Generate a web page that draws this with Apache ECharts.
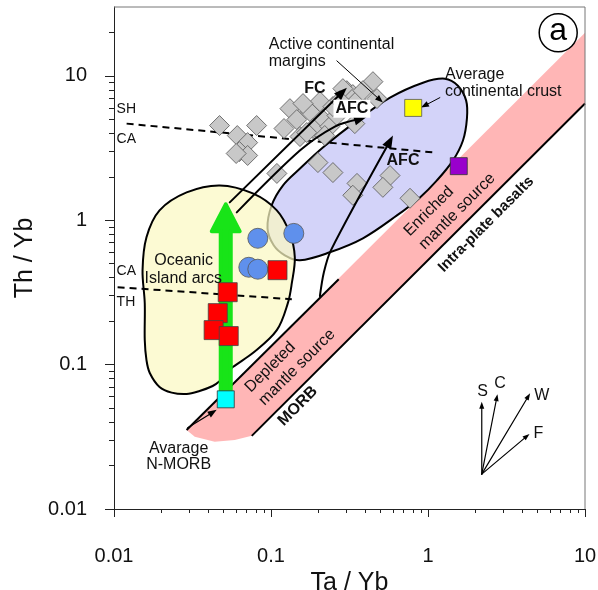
<!DOCTYPE html>
<html><head><meta charset="utf-8">
<script src="https://cdn.jsdelivr.net/npm/echarts@6/dist/echarts.min.js"></script>
<style>html,body{margin:0;padding:0;background:#fff}#c{width:598px;height:590px}</style>
</head><body><div id="c"></div>
<script>
// ---------- data (Ta/Yb , Th/Yb) ----------
const tickLabels = ['0.01', '0.1', '1', '10'];
const majorTicks = [0.01, 0.1, 1, 10];
const xMinorTicks = [0.02,0.03,0.04,0.05,0.06,0.07,0.08,0.09,0.2,0.3,0.4,0.5,0.6,0.7,0.8,0.9,2,3,4,5,6,7,8,9];
const yMinorTicks = [0.02,0.03,0.04,0.05,0.06,0.07,0.08,0.09,0.2,0.3,0.4,0.5,0.6,0.7,0.8,0.9,2,3,4,5,6,7,8,9,20];

const redSquares = [[0.110,0.451],[0.0530,0.3175],[0.0458,0.2274],[0.0431,0.1734],[0.0538,0.1577]];
const blueCircles = [[0.0824,0.750],[0.1397,0.811],[0.0722,0.4725],[0.0824,0.458]];
const greyDiamonds = [
  [0.047,4.53],[0.081,4.53],[0.061,3.86],[0.071,3.45],[0.063,2.99],[0.071,2.81],[0.060,2.90],
  [0.132,5.93],[0.121,4.32],[0.146,4.98],[0.153,3.80],[0.177,5.66],[0.205,6.63],[0.214,4.98],
  [0.185,4.32],[0.237,4.46],[0.263,5.31],[0.304,7.90],[0.332,7.42],[0.353,6.74],[0.446,9.12],
  [0.473,6.96],[0.342,4.67],[0.248,6.13],[0.109,2.11],[0.199,2.51],[0.248,2.14],[0.353,1.80],
  [0.332,1.49],[0.573,2.04],[0.516,1.69],[0.768,1.42],[0.169,4.05],[0.385,7.90],[0.287,8.16],
  [0.160,6.43],[0.220,3.86],[0.275,6.74]
];
const nMorbAverage = [[0.0515,0.0575]];
const continentalCrust = [[0.805,6.0]];
const purpleSample = [[1.57,2.37]];

// field boundaries
const oceanicArcField = [
  [0.0472,1.743],[0.0766,1.534],[0.1089,1.171],[0.1318,0.812],[0.1418,0.554],[0.1357,0.3665],
  [0.128,0.2665],[0.1089,0.1734],[0.0766,0.1203],[0.0571,0.0962],[0.0515,0.0855],[0.0472,0.077],
  [0.0425,0.0711],[0.0351,0.0657],[0.029,0.0626],[0.0233,0.064],[0.0195,0.070],[0.0169,0.0875],
  [0.0161,0.1076],[0.0157,0.148],[0.0157,0.2665],[0.0152,0.451],[0.0161,0.762],[0.0195,1.171],[0.029,1.559]
];
const activeMarginField = [
  [0.095,0.879],[0.101,1.27],[0.119,1.74],[0.153,2.28],[0.214,3.19],[0.353,4.90],[0.573,7.07],
  [0.929,8.97],[1.28,9.56],[1.55,8.55],[1.75,6.74],[1.77,5.06],[1.67,3.57],[1.44,2.59],[1.14,1.89],
  [0.889,1.44],[0.634,1.08],[0.385,0.75],[0.237,0.60],[0.153,0.528],[0.1225,0.572],[0.104,0.671]
];
const mantleArray = [[0.029,0.0353],[10,19.9],[10,6.43],[0.0754,0.0321],[0.0588,0.0301],[0.0438,0.0292],[0.0327,0.0316]];
const mantleUpperLine = [[0.029,0.0353],[0.27,0.39]];
const mantleLowerLine = [[0.0754,0.0321],[10,6.43]];
const shCaLine = [[0.01203,4.67],[1.076,2.95]];
const caThLine = [[0.01054,0.344],[0.1357,0.284]];

// trends
const greenTrend = [[0.0515,1.288],[0.0632,0.838],[0.05541,0.838],[0.05541,0.0636],[0.04784,0.0636],[0.04784,0.838],[0.04194,0.838]];
const fcTrend = [[0.0546,1.33],[0.3043,8.29]];
const afcTrend1 = [[0.0605,1.134],[0.1527,3.04],[0.255,4.46],[0.408,5.22]];
const afcTrend2 = [[0.2048,0.298],[0.2172,0.4365],[0.2407,0.619],[0.598,3.86]];
const acmLeader = [[0.2628,12.7],[0.5164,6.53]];
const crustLeader = [[1.19,7.07],[0.902,6.03]];
const morbLeader = [[0.02947,0.0365],[0.0451,0.0486]];
const vectorOrigin = [2.20,0.01745];
const vectorTips = [[2.20,0.0554],[2.77,0.0624],[4.47,0.0633],[4.43,0.0331]];
const vectorNames = ['S','C','W','F'];
const vectorLabelAt = [[2.23,0.065],[2.88,0.0743],[5.31,0.0607],[5.05,0.0331]];

// ---------- drawing ----------
const FONT = '"Liberation Sans", Arial, Helvetica, sans-serif';
const chart = echarts.init(document.getElementById('c'), null, {renderer: 'canvas'});

function pts(api, arr) { return arr.map(d => api.coord(d)); }
function arrow(api, arr, lw, len, hw, color, smooth) {
  const p = pts(api, arr);
  const n = p.length, a = p[n - 2], b = p[n - 1];
  const dx = b[0] - a[0], dy = b[1] - a[1], L = Math.hypot(dx, dy), ux = dx / L, uy = dy / L;
  const bx = b[0] - ux * len, by = b[1] - uy * len;
  const lp = p.slice(0, n - 1).concat([[b[0] - ux * len * 0.7, b[1] - uy * len * 0.7]]);
  return [
    {type: 'polyline', shape: {points: lp, smooth: smooth || 0}, style: {stroke: color, lineWidth: lw, fill: null, lineCap: 'round', lineJoin: 'round'}},
    {type: 'polygon', shape: {points: [b, [bx - uy * hw, by + ux * hw], [bx + uy * hw, by - ux * hw]]}, style: {fill: color}}
  ];
}
function txt(api, d, text, o) {
  const p = api.coord(d);
  const st = {text: text, fill: '#111', fontSize: o.size || 16, fontFamily: FONT, fontWeight: o.bold ? 'bold' : 'normal',
    align: o.align || 'left', verticalAlign: 'middle'};
  if (o.bg) { st.backgroundColor = o.bg; st.padding = [1, 2]; }
  return {type: 'text', x: p[0], y: p[1], rotation: o.rot || 0, style: st};
}
function layer(z, build) {
  return {type: 'custom', z: z, silent: true, animation: false, clip: false, data: [[1, 1]],
    renderItem: (params, api) => ({type: 'group', children: build(api)})};
}
function fmt(v) {
  const l = Math.log10(v), e = Math.round(l);
  if (Math.abs(l - e) > 1e-6 || e < -2 || e > 1) return '';
  return tickLabels[e + 2];
}
const R45 = Math.PI / 4;
const axisLineStyle = {show: true, onZero: false, lineStyle: {color: '#222', width: 1}};

const option = {
  backgroundColor: '#fff',
  animation: false,
  grid: {left: 114, right: 13, top: 7, bottom: 81, containLabel: false, outerBoundsMode: 'none', show: false},
  xAxis: [
    {type: 'log', logBase: 10, min: 0.01, max: 10, position: 'bottom',
      axisLine: axisLineStyle,
      axisTick: {show: true, inside: false, length: 8, customValues: majorTicks, lineStyle: {color: '#222', width: 1}},
      splitLine: {show: false}, minorTick: {show: false},
      axisLabel: {margin: 37, fontSize: 20, color: '#111', fontFamily: FONT, formatter: fmt, customValues: majorTicks},
      name: 'Ta / Yb', nameLocation: 'middle', nameGap: 51,
      nameTextStyle: {fontSize: 25, color: '#111', fontFamily: FONT}},
    {type: 'log', logBase: 10, min: 0.01, max: 10, position: 'bottom', gridIndex: 0,
      axisLine: {show: false},
      axisTick: {show: true, inside: false, length: 4, customValues: xMinorTicks, lineStyle: {color: '#222', width: 1}},
      splitLine: {show: false}, axisLabel: {show: false}}
  ],
  yAxis: [
    {type: 'log', logBase: 10, min: 0.01, max: 30, position: 'left',
      axisLine: axisLineStyle,
      axisTick: {show: true, inside: false, length: 9, customValues: majorTicks, lineStyle: {color: '#222', width: 1}},
      splitLine: {show: false}, minorTick: {show: false},
      axisLabel: {margin: 27, fontSize: 20, color: '#111', fontFamily: FONT, formatter: fmt, customValues: majorTicks},
      name: 'Th / Yb', nameLocation: 'middle', nameGap: 72,
      nameTextStyle: {fontSize: 25, color: '#111', fontFamily: FONT}},
    {type: 'log', logBase: 10, min: 0.01, max: 30, position: 'left', gridIndex: 0,
      axisLine: {show: false},
      axisTick: {show: true, inside: false, length: 5, customValues: yMinorTicks, lineStyle: {color: '#222', width: 1}},
      splitLine: {show: false}, axisLabel: {show: false}}
  ],
  series: [
    layer(1, api => [
      {type: 'polygon', shape: {points: pts(api, mantleArray)}, style: {fill: '#ffb6b6'}}
    ]),
    layer(2, api => [
      {type: 'polygon', shape: {points: pts(api, activeMarginField), smooth: 0.35},
        style: {fill: '#d3d3f9', stroke: '#000', lineWidth: 2}}
    ]),
    layer(3, api => [
      {type: 'polygon', shape: {points: pts(api, oceanicArcField), smooth: 0.35},
        style: {fill: 'rgba(251,248,194,0.72)', stroke: null}},
      {type: 'polygon', shape: {points: pts(api, oceanicArcField), smooth: 0.35},
        style: {fill: null, stroke: '#000', lineWidth: 2}}
    ]),
    layer(4, api => [
      {type: 'polyline', shape: {points: pts(api, mantleUpperLine)}, style: {stroke: '#000', lineWidth: 2}},
      {type: 'polyline', shape: {points: pts(api, mantleLowerLine)}, style: {stroke: '#000', lineWidth: 2}},
      {type: 'polyline', shape: {points: pts(api, shCaLine)}, style: {stroke: '#000', lineWidth: 2, lineDash: [7, 5]}},
      {type: 'polyline', shape: {points: pts(api, caThLine)}, style: {stroke: '#000', lineWidth: 2, lineDash: [7, 5]}}
    ]),
    {type: 'scatter', name: 'Active margin samples', z: 6, silent: true, data: greyDiamonds, symbol: 'diamond', symbolSize: 20,
      itemStyle: {color: '#c8c8c8', borderColor: '#555', borderWidth: 0.8, opacity: 1}},
    layer(7, api => [].concat(
      arrow(api, fcTrend, 2, 13, 5, '#000'),
      arrow(api, afcTrend1, 2, 13, 5, '#000', 0.3),
      arrow(api, afcTrend2, 2, 13, 5, '#000', 0.3),
      arrow(api, acmLeader, 1, 8, 3, '#000'),
      arrow(api, crustLeader, 1, 8, 3, '#000'),
      arrow(api, morbLeader, 1.2, 9, 3.5, '#000'),
      ...vectorTips.map(t => arrow(api, [vectorOrigin, t], 1.2, 7, 2.5, '#000'))
    )),
    layer(8, api => [
      {type: 'polygon', shape: {points: pts(api, greenTrend)},
        style: {fill: '#18e418', stroke: '#18e418', lineWidth: 4, lineJoin: 'round'}}
    ]),
    {type: 'scatter', name: 'Circles', z: 9, silent: true, data: blueCircles, symbol: 'circle', symbolSize: 20,
      itemStyle: {color: '#5f90ec', borderColor: '#555', borderWidth: 0.8, opacity: 1}},
    {type: 'scatter', name: 'Squares', z: 10, silent: true, data: redSquares, symbol: 'rect', symbolSize: 19,
      itemStyle: {color: '#ff0000', borderColor: '#444', borderWidth: 0.8, opacity: 1}},
    {type: 'scatter', name: 'N-MORB', z: 10, silent: true, data: nMorbAverage, symbol: 'rect', symbolSize: 17,
      itemStyle: {color: '#00ffff', borderColor: '#333', borderWidth: 0.8, opacity: 1}},
    {type: 'scatter', name: 'Continental crust', z: 10, silent: true, data: continentalCrust, symbol: 'rect', symbolSize: 17,
      itemStyle: {color: '#ffff00', borderColor: '#555', borderWidth: 0.8, opacity: 1}},
    {type: 'scatter', name: 'Purple', z: 10, silent: true, data: purpleSample, symbol: 'rect', symbolSize: 17,
      itemStyle: {color: '#9900cc', borderColor: '#333', borderWidth: 0.8, opacity: 1}},
    layer(11, api => [
      txt(api, [0.0968, 16.6], 'Active continental', {}),
      txt(api, [0.0968, 12.5], 'margins', {}),
      txt(api, [1.284, 10.2], 'Average', {}),
      txt(api, [1.284, 7.78], 'continental crust', {}),
      txt(api, [0.0278, 0.528], 'Oceanic', {align: 'center'}),
      txt(api, [0.0276, 0.397], 'Island arcs', {align: 'center'}),
      txt(api, [0.0258, 0.0263], 'Avarage', {align: 'center'}),
      txt(api, [0.0258, 0.0202], 'N-MORB', {align: 'center'}),
      txt(api, [0.01039, 5.93], 'SH', {size: 14}),
      txt(api, [0.01039, 3.62], 'CA', {size: 14}),
      txt(api, [0.01039, 0.443], 'CA', {size: 14}),
      txt(api, [0.01039, 0.2708], 'TH', {size: 14}),
      txt(api, [0.1903, 8.16], 'FC', {align: 'center', bold: true}),
      txt(api, [0.3275, 5.93], 'AFC', {align: 'center', bold: true, bg: '#fff'}),
      txt(api, [0.693, 2.59], 'AFC', {align: 'center', bold: true}),
      txt(api, [0.0711, 0.0668], 'Depleted', {rot: R45}),
      txt(api, [0.087, 0.0543], 'mantle source', {rot: R45}),
      txt(api, [0.1483, 0.0517], 'MORB', {rot: R45, align: 'center', bold: true}),
      txt(api, [0.731, 0.808], 'Enriched', {rot: R45}),
      txt(api, [0.9117, 0.6528], 'mantle source', {rot: R45}),
      txt(api, [2.344, 0.937], 'Intra-plate basalts', {rot: R45, align: 'center', bold: true, size: 15}),
      ...vectorNames.map((n, i) => txt(api, vectorLabelAt[i], n, {align: 'center'}))
    ]),
    layer(20, api => {
      const els = [];
      const bl = api.coord([0.01, 0.01]), tr = api.coord([10, 30]);
      els.push({type: 'polyline', shape: {points: [[bl[0], tr[1]], [tr[0], tr[1]], [tr[0], bl[1]]]}, style: {stroke: '#777', lineWidth: 1, fill: null}});
      const c = api.coord([6.75, 19.9]);
      els.push({type: 'circle', shape: {cx: c[0], cy: c[1], r: 19}, style: {fill: '#fff', stroke: '#000', lineWidth: 1.5}});
      els.push({type: 'text', x: c[0], y: c[1] - 2, style: {text: 'a', fill: '#000', fontSize: 32, fontFamily: FONT, align: 'center', verticalAlign: 'middle'}});
      return els;
    })
  ]
};
chart.setOption(option);
</script>
</body></html>
